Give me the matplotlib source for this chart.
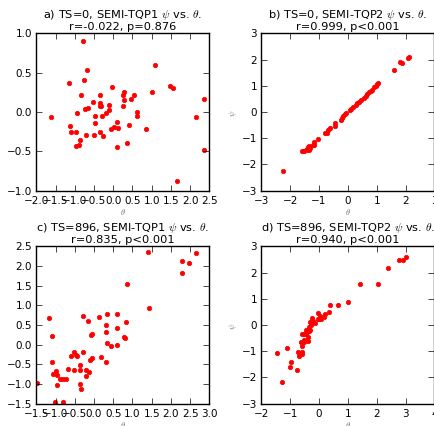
"""Scatter of psi vs theta for two time steps and two SEMI-TQP variants."""

import matplotlib
matplotlib.use("Agg")
import matplotlib.pyplot as plt

# panel a) TS=0, SEMI-TQP1
a_theta = [-1.62, -0.78, -0.69, -1.14, -0.76, -0.84, -1.12, -1.10, -0.93, -0.74,
           -0.65, -0.96, -0.72, -0.97, -0.89, -0.87, -0.52, -0.35, -0.34, -0.34,
           -0.31, -0.48, -0.47, -0.30, -0.19, -0.12, -0.12, -0.34, -0.49, -0.26,
           -0.02, -0.07, 0.02, 0.10, 0.12, 0.09, 0.25, 0.28, 0.28, 0.26,
           0.46, 0.53, 0.40, 0.35, 0.61, 0.61, 0.84, 1.00, 1.09, 1.47,
           1.55, 1.65, 2.14, 2.36, 2.35]
a_psi = [-0.07, 0.90, 0.54, 0.37, 0.41, 0.22, -0.18, -0.26, -0.01, 0.04,
         0.05, -0.26, -0.29, -0.43, -0.42, -0.36, 0.13, 0.22, 0.12, 0.08,
         0.08, -0.05, -0.14, -0.05, -0.01, 0.09, 0.03, -0.26, -0.29, -0.30,
         0.32, -0.22, -0.19, -0.13, -0.21, -0.44, 0.21, 0.26, 0.15, 0.07,
         0.16, 0.22, -0.17, -0.40, 0.00, -0.05, -0.22, 0.26, 0.60, 0.33,
         0.31, -0.88, -0.07, 0.16, -0.49]

# panel b) TS=0, SEMI-TQP2
b_theta = [-2.24, -1.60, -1.52, -1.46, -1.42, -1.39, -1.36, -1.34, -1.31, -1.22,
           -1.19, -1.16, -1.03, -0.79, -0.74, -0.68, -0.62, -0.44, -0.43, -0.24,
           -0.22, -0.17, -0.10, -0.05, 0.06, 0.10, 0.17, 0.27, 0.31, 0.37,
           0.45, 0.55, 0.62, 0.67, 0.73, 0.79, 0.84, 0.90, 0.96, 1.00,
           1.05, 1.60, 1.80, 1.88, 2.08, 2.12]
b_psi = [-2.26, -1.50, -1.49, -1.47, -1.42, -1.35, -1.45, -1.31, -1.39, -1.25,
         -1.16, -1.25, -1.04, -0.80, -0.79, -0.69, -0.60, -0.44, -0.53, -0.29,
         -0.23, -0.14, -0.09, -0.05, 0.08, 0.10, 0.18, 0.28, 0.34, 0.38,
         0.46, 0.55, 0.61, 0.67, 0.78, 0.79, 0.85, 0.94, 1.00, 1.05,
         1.11, 1.59, 1.89, 1.87, 2.05, 2.10]

# panel c) TS=896, SEMI-TQP1
c_theta = [-1.47, -1.16, -1.08, -1.09, -1.06, -1.00, -1.01, -0.97, -0.96, -0.89,
           -0.80, -0.80, -0.72, -0.67, -0.60, -0.53, -0.53, -0.46, -0.45, -0.37,
           -0.36, -0.36, -0.34, -0.29, -0.28, -0.22, -0.20, -0.16, -0.13, -0.11,
           -0.08, -0.06, -0.04, 0.13, 0.17, 0.30, 0.31, 0.32, 0.33, 0.34,
           0.44, 0.59, 0.59, 0.59, 0.78, 0.81, 0.82, 0.85, 1.40, 1.44,
           2.28, 2.30, 2.48, 2.66]
c_psi = [-0.98, 0.68, 0.23, -0.45, -0.74, -0.68, -1.45, -1.03, -0.78, -0.86,
         -0.86, -1.45, -0.86, -0.63, -0.30, -0.64, -0.19, -0.25, -0.28, -0.64,
         -0.52, -0.99, -1.12, 0.73, -0.19, -0.64, -0.80, 0.60, -0.69, -0.38,
         0.25, 0.28, -0.34, 0.70, -0.32, -0.43, 0.49, 0.31, 0.78, 0.05,
         -0.04, 0.78, 0.42, -0.01, 0.19, 0.17, 0.57, 1.54, 2.35, 0.93,
         1.81, 2.13, 2.08, 2.32]

# panel d) TS=896, SEMI-TQP2
d_theta = [-1.46, -1.30, -1.11, -0.99, -0.97, -0.75, -0.74, -0.70, -0.62, -0.60,
           -0.60, -0.59, -0.58, -0.53, -0.51, -0.51, -0.46, -0.46, -0.40, -0.39,
           -0.38, -0.36, -0.33, -0.30, -0.30, -0.28, -0.25, -0.21, -0.14, -0.05,
           -0.02, 0.00, 0.02, 0.06, 0.16, 0.22, 0.33, 0.39, 0.66, 1.00,
           1.43, 2.05, 2.38, 2.78, 2.91, 3.03]
d_psi = [-1.05, -2.19, -0.88, -1.60, -1.42, -1.70, -1.02, -1.19, -0.66, -0.79,
         -1.04, -1.12, -0.33, -0.56, -0.34, -0.65, -0.19, -0.36, -0.28, -0.46,
         -0.60, -0.08, -0.23, 0.10, -0.18, 0.00, 0.28, 0.15, 0.08, 0.22,
         0.46, 0.24, 0.36, 0.24, 0.29, 0.41, 0.51, 0.75, 0.75, 0.86,
         1.58, 1.58, 2.19, 2.47, 2.47, 2.58]

PANELS = [
    ("a) TS=0, SEMI-TQP1 $\\psi$ vs. $\\theta$.\nr=-0.022, p=0.876",
     a_theta, a_psi, (-2.0, 2.5), (-1.0, 1.0), False),
    ("b) TS=0, SEMI-TQP2 $\\psi$ vs. $\\theta$.\nr=0.999, p<0.001",
     b_theta, b_psi, (-3, 3), (-3, 3), True),
    ("c) TS=896, SEMI-TQP1 $\\psi$ vs. $\\theta$.\nr=0.835, p<0.001",
     c_theta, c_psi, (-1.5, 3.0), (-1.5, 2.5), False),
    ("d) TS=896, SEMI-TQP2 $\\psi$ vs. $\\theta$.\nr=0.940, p<0.001",
     d_theta, d_psi, (-2, 4), (-3, 3), True),
]

AX_POS = [
    [0.0834, 0.5515, 0.398, 0.368],
    [0.6007, 0.5515, 0.398, 0.368],
    [0.0834, 0.0522, 0.398, 0.3686],
    [0.6007, 0.0522, 0.398, 0.3686],
]

plt.style.use("classic")
plt.rcParams["figure.facecolor"] = "white"
plt.rcParams["mathtext.fontset"] = "cm"

fig = plt.figure(figsize=(4.35, 4.27), dpi=100)
for pos, (title, xs, ys, xlim, ylim, show_ylabel) in zip(AX_POS, PANELS):
    ax = fig.add_axes(pos)
    ax.plot(xs, ys, "o", color="red", mec="red", ms=3.2)
    ax.set_xlim(*xlim)
    ax.set_ylim(*ylim)
    ax.set_title(title, fontsize=8.2, pad=3, linespacing=1.05)
    ax.tick_params(labelsize=7.5, pad=3)
    ax.set_xlabel("$\\theta$", fontsize=6, color="0.45", labelpad=1)
    if show_ylabel:
        ax.set_ylabel("$\\psi$", fontsize=6, color="0.45", labelpad=2)

fig.savefig("out.png", dpi=100, facecolor="white")
